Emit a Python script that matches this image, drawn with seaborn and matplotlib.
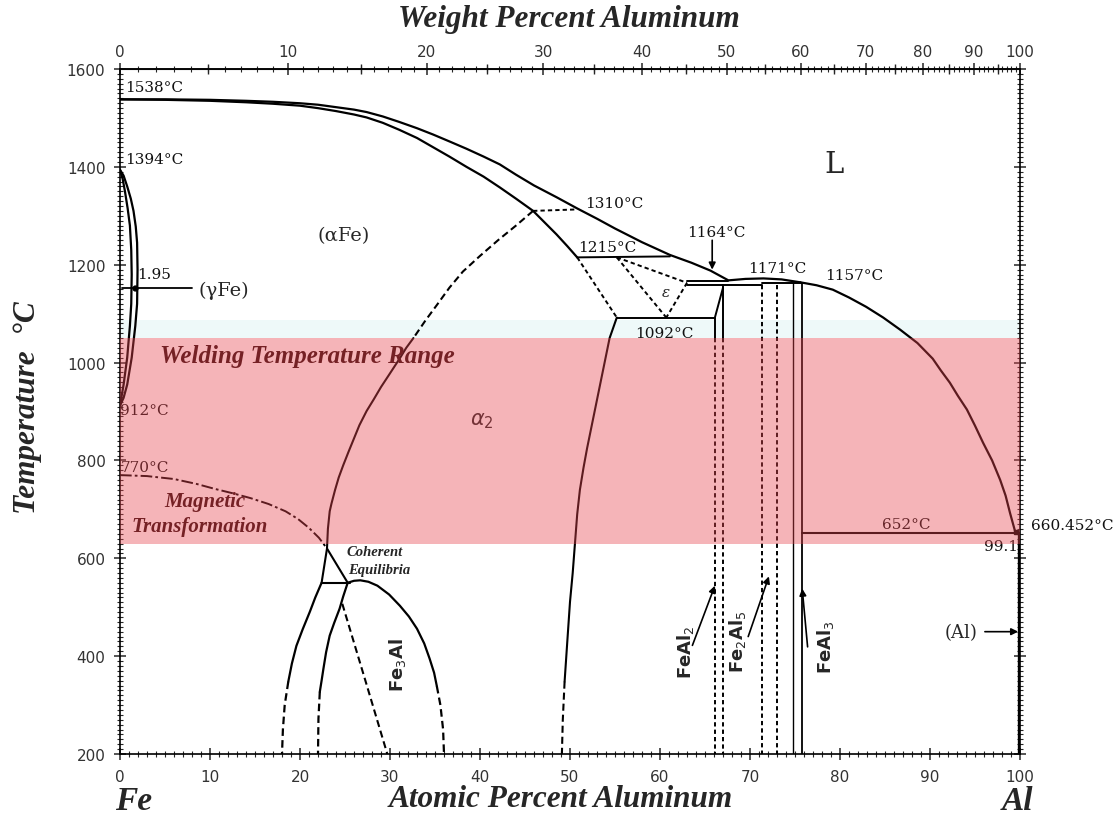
import numpy as np
import matplotlib
matplotlib.use("Agg")
import matplotlib.pyplot as plt
import seaborn as sns
from matplotlib.ticker import MultipleLocator, FixedLocator

# ---------------- phase boundaries (atomic % Al, temperature in °C) ----------------
liquidus_at = [0, 5, 10, 14, 17, 20, 22, 24, 26, 27.4, 29.2, 31, 33, 34.8, 36.6, 38.5,
               40.4, 42.2, 44, 46, 48.5, 50.8, 53, 55, 58, 61.1, 63.5, 65.6, 67.6,
               69.5, 71.5, 73.5, 75.6]
liquidus_T = [1538, 1538, 1537, 1535, 1533, 1530, 1527, 1522, 1517, 1512, 1503, 1492,
              1479, 1466, 1452, 1437, 1421, 1405, 1384, 1362, 1338, 1315, 1294, 1274,
              1246, 1220, 1204, 1188, 1168, 1171, 1172, 1170, 1164]

al_liquidus_at = [75.6, 77.4, 79.2, 81.0, 82.9, 84.8, 86.7, 88.6, 90.3, 91.2, 92.2, 93.1,
                  94.1, 95.0, 95.9, 96.9, 97.8, 98.4, 98.9, 99.2, 99.5]
al_liquidus_T = [1164, 1158, 1149, 1133, 1114, 1092, 1067, 1040, 1008, 984, 959, 932,
                 904, 871, 836, 800, 760, 728, 692, 672, 652]

solidus_at = [0, 5, 10, 14, 17, 20, 22, 24, 26, 27.4, 29.2, 31, 33, 34.8, 36.6, 38.5,
              40.4, 42.2, 44, 45.9, 47.2, 48.5, 49.7, 50.8]
solidus_T = [1538, 1537, 1535, 1532, 1529, 1525, 1520, 1514, 1507, 1501, 1490, 1476,
             1459, 1440, 1421, 1400, 1380, 1358, 1335, 1310, 1286, 1262, 1238, 1215]

gamma_outer_at = [0, 0.4, 0.8, 1.2, 1.5, 1.75, 1.9, 1.95, 1.9, 1.7, 1.3, 0.8, 0.4, 0]
gamma_outer_T = [1394, 1382, 1360, 1335, 1310, 1278, 1245, 1190, 1120, 1075, 1010, 955,
                 928, 912]
gamma_inner_at = [0, 0.3, 0.55, 0.85, 1.1, 1.25, 1.3, 1.25, 1.1, 0.8, 0.4, 0]
gamma_inner_T = [1394, 1375, 1350, 1315, 1280, 1230, 1180, 1120, 1075, 1010, 955, 912]

# A2 / B2 ordering line
order_dash_at = [45.9, 44.0, 42.0, 40.0, 38.1, 36.6, 35.3, 33.9, 32.6]
order_dash_T = [1310, 1280, 1250, 1218, 1186, 1153, 1120, 1085, 1050]
order_solid_at = [32.6, 31.8, 31.1, 30.0, 29.0, 28.2, 27.4, 26.6, 26.0, 25.4, 24.8,
                  24.3, 23.9, 23.5, 23.3, 23.1, 23.0]
order_solid_T = [1050, 1030, 1009, 978, 950, 925, 901, 872, 845, 818, 790, 765, 740,
                 712, 696, 660, 620]

magnetic_at = [0, 3, 6, 8.5, 10.5, 12.5, 14.5, 16.5, 18.4, 19.8, 21.0, 22.1, 23.0]
magnetic_T = [770, 768, 762, 752, 742, 733, 723, 711, 696, 680, 662, 642, 620]

# alpha2 / FeAl boundary
b2_solid_at = [55.2, 54.4, 53.9, 53.4, 52.9, 52.4, 51.9, 51.5, 51.1, 50.8, 50.55, 50.3,
               50.0, 49.7, 49.4]
b2_solid_T = [1092, 1050, 1005, 960, 915, 870, 825, 785, 740, 690, 630, 570, 511, 430, 348]
b2_dash_at = [49.4, 49.2, 49.1]
b2_dash_T = [348, 270, 200]

# Fe3Al region
fe3al_left_at = [22.4, 21.7, 21.1, 20.3, 19.6, 19.1, 18.7]
fe3al_left_T = [550, 520, 491, 455, 421, 385, 348]
fe3al_left_dash_at = [18.7, 18.3, 18.1, 18.0]
fe3al_left_dash_T = [348, 300, 250, 200]
fe3al_mid_at = [25.3, 24.8, 24.4, 23.8, 23.3, 22.9, 22.6, 22.4, 22.2]
fe3al_mid_T = [550, 522, 497, 468, 442, 408, 374, 350, 327]
fe3al_mid_dash_at = [22.2, 22.05, 22.0]
fe3al_mid_dash_T = [327, 272, 200]
fe3al_inner_at = [24.7, 27.2, 29.7]
fe3al_inner_T = [507, 354, 200]
fe3al_right_at = [25.3, 26.0, 26.7, 27.6, 28.6, 29.9, 31.1, 32.1, 33.0, 33.8, 34.4,
                  34.9, 35.2]
fe3al_right_T = [550, 554, 555, 552, 544, 526, 503, 481, 456, 426, 395, 366, 339]
fe3al_right_dash_at = [35.2, 35.6, 35.9, 36.0]
fe3al_right_dash_T = [339, 300, 250, 200]

# intermetallic line compounds (vertical boundaries)
feal2_at = [66.1, 67.0]
fe2al5_at = [71.3, 73.0]
feal3_at = [74.8, 75.8]

# invariant temperatures
T_1310, T_1215, T_1092, T_1164, T_1159, T_652 = 1310, 1215, 1092, 1166, 1159, 652
weld_low, weld_high = 630, 1050

# top axis ticks (weight % Al)
wt_major = list(range(0, 101, 10))
wt_mid = list(range(5, 100, 10))
wt_minor = list(range(0, 101, 1))

FE_MASS, AL_MASS = 55.845, 26.982


def at_to_wt(a):
    a = np.asarray(a, dtype=float)
    with np.errstate(divide="ignore", invalid="ignore"):
        return 100.0 * a * AL_MASS / (a * AL_MASS + (100.0 - a) * FE_MASS)


def wt_to_at(w):
    w = np.asarray(w, dtype=float)
    with np.errstate(divide="ignore", invalid="ignore"):
        return 100.0 * (w / AL_MASS) / (w / AL_MASS + (100.0 - w) / FE_MASS)


sns.set_style("ticks")
plt.rcParams["font.family"] = ["DejaVu Sans"]
plt.rcParams["mathtext.fontset"] = "dejavusans"

W, H = 1119, 820
fig = plt.figure(figsize=(W / 100, H / 100), dpi=100)
ax = fig.add_axes([120 / W, 65 / H, 900 / W, 685 / H])
ax.set_xlim(0, 100)
ax.set_ylim(200, 1600)

DASH = (0, (2.2, 1.6))
LDASH = (0, (3.4, 1.9))
DASHDOT = (0, (6, 1.6, 1.4, 1.6))


def trace(xs, ts, style="solid", lw=1.5, color="black", z=2):
    sns.lineplot(x=list(xs), y=list(ts), sort=False, estimator=None, errorbar=None,
                 ax=ax, color=color, linewidth=lw, linestyle=style, zorder=z)


# faint strip above the welding range
ax.axhspan(weld_high, 1088, color="#eef9f9", lw=0, zorder=0)

# liquidus and solidus
trace(liquidus_at, liquidus_T, lw=1.6)
trace(al_liquidus_at, al_liquidus_T, lw=1.6)
trace(solidus_at, solidus_T, lw=1.6)

# gamma loop
trace(gamma_outer_at, gamma_outer_T, lw=1.6)
trace(gamma_inner_at, gamma_inner_T, lw=1.6)
trace([0.2, 8.0], [1153, 1153], lw=1.3)
ax.plot([1.7], [1153], "o", color="black", ms=3.5, zorder=3)

# ordering lines
trace(order_dash_at, order_dash_T, style=LDASH, lw=1.5)
trace(order_solid_at, order_solid_T, lw=1.5)
trace(magnetic_at, magnetic_T, style=DASHDOT, lw=1.4)
trace([solidus_at[19], 50.8], [T_1310, T_1310 + 3], style=DASH, lw=1.4)

# peritectic / eutectoid region around epsilon
trace([50.8, 61.1], [T_1215, 1217], lw=1.4)
trace([50.8, 55.2], [T_1215, T_1092], style=DASH, lw=1.4)
trace([55.2, 60.7], [T_1215, T_1092], style=DASH, lw=1.4)
trace([55.2, 63.0], [T_1215, 1163], style=DASH, lw=1.4)
trace([63.0, 60.7], [1163, T_1092], style=DASH, lw=1.4)
trace([55.2, 66.1], [T_1092, T_1092], lw=1.4)
trace([66.1, 67.0], [T_1092, 1153], lw=1.4)
trace([63.0, 67.6], [T_1164, T_1164], lw=1.4)
trace([63.0, 71.3], [T_1159, T_1159], lw=1.4)
trace([71.3, 75.8], [1163, 1163], lw=1.4)

# alpha2 / FeAl boundary
trace(b2_solid_at, b2_solid_T, lw=1.5)
trace(b2_dash_at, b2_dash_T, style=LDASH, lw=1.5)

# coherent equilibria triangle and Fe3Al
trace([23.0, 22.4], [620, 550], lw=1.5)
trace([23.0, 25.3], [620, 550], lw=1.5)
trace([22.4, 25.6], [550, 550], lw=1.5)
trace(fe3al_left_at, fe3al_left_T, lw=1.6)
trace(fe3al_left_dash_at, fe3al_left_dash_T, style=LDASH, lw=1.6)
trace(fe3al_mid_at, fe3al_mid_T, lw=1.6)
trace(fe3al_mid_dash_at, fe3al_mid_dash_T, style=LDASH, lw=1.6)
trace(fe3al_inner_at, fe3al_inner_T, style=LDASH, lw=1.5)
trace(fe3al_right_at, fe3al_right_T, lw=1.6)
trace(fe3al_right_dash_at, fe3al_right_dash_T, style=LDASH, lw=1.6)

# intermetallic compounds
trace([feal2_at[0]] * 2, [T_1092, weld_high], lw=1.4)
trace([feal2_at[0]] * 2, [weld_high, 200], style=DASH, lw=1.4)
trace([feal2_at[1]] * 2, [T_1159, weld_high], lw=1.4)
trace([feal2_at[1]] * 2, [weld_high, 200], style=DASH, lw=1.4)
for xv in fe2al5_at:
    trace([xv, xv], [T_1159, 200], style=DASH, lw=1.4)
trace([feal3_at[0]] * 2, [1163, 200], lw=1.0)
trace([feal3_at[1]] * 2, [1163, 200], lw=1.3)

# Al-rich eutectic and solvus
trace([feal3_at[1], 99.6], [T_652, T_652], lw=1.5)
trace([99.85, 99.85], [T_652, 200], lw=2.4)
ax.plot([99.6], [T_652 + 2], "s", color="black", ms=3, zorder=3)

# welding range overlay (tints the lines and labels beneath it)
ax.axhspan(weld_low, weld_high, color=(0.91, 0.27, 0.31), alpha=0.4, lw=0, zorder=6)

# ---------------- labels ----------------
SERIF = "DejaVu Serif"
BI = dict(family="Liberation Serif", weight="bold", style="italic")
num = dict(family=SERIF, fontsize=11, color="#111111", zorder=4)

ax.text(0.55, 1563, "1538°C", ha="left", va="center", **num)
ax.text(0.55, 1417, "1394°C", ha="left", va="center", **num)
ax.text(0.0, 903, "912°C", ha="left", va="center", **num)
ax.text(0.1, 786, "770°C", ha="left", va="center", **num)
ax.text(51.7, 1327, "1310°C", ha="left", va="center", **num)
ax.text(50.9, 1236, "1215°C", ha="left", va="center", **num)
ax.text(63.0, 1266, "1164°C", ha="left", va="center", **num)
ax.text(69.8, 1194, "1171°C", ha="left", va="center", **num)
ax.text(78.3, 1180, "1157°C", ha="left", va="center", **num)
ax.text(57.2, 1061, "1092°C", ha="left", va="center", **num)
ax.text(87.4, 671, "652°C", ha="center", va="center", **num)
ax.text(99.8, 626, "99.1", ha="right", va="center", **num)
ax.text(101.2, 668, "660.452°C", ha="left", va="center", clip_on=False, **num)
ax.text(1.9, 1181, "1.95", ha="left", va="center", **num)

ax.text(79.3, 1405, "L", family=SERIF, fontsize=21, ha="center", va="center")
ax.text(24.8, 1261, "(αFe)", family=SERIF, fontsize=14, ha="center", va="center")
ax.text(8.7, 1149, "(γFe)", family=SERIF, fontsize=14, ha="left", va="center")
ax.text(40.2, 882, r"$\alpha_2$", fontsize=15, ha="center", va="center", zorder=4)
ax.text(60.6, 1145, "ε", family=SERIF, fontsize=11, style="italic", ha="center", va="center")
ax.text(93.5, 450, "(Al)", family=SERIF, fontsize=13, ha="center", va="center")

ax.text(4.4, 1014, "Welding Temperature Range", fontsize=18, color="#2a0a0a",
        ha="left", va="center", zorder=4, **BI)
ax.text(9.4, 718, "Magnetic", fontsize=15, color="#2a0a0a", ha="center", va="center", zorder=4, **BI)
ax.text(8.9, 667, "Transformation", fontsize=15, color="#2a0a0a", ha="center", va="center", zorder=4, **BI)
ax.text(25.2, 614, "Coherent", fontsize=10.5, ha="left", va="center", **BI)
ax.text(25.3, 577, "Equilibria", fontsize=10.5, ha="left", va="center", **BI)

comp = dict(fontsize=13, weight="bold", rotation=90, ha="center", va="center")
ax.text(30.8, 384, r"Fe$_3$Al", **comp)
ax.text(62.8, 411, r"FeAl$_2$", **comp)
ax.text(68.6, 432, r"Fe$_2$Al$_5$", **comp)
ax.text(78.4, 421, r"FeAl$_3$", **comp)

arrow = dict(arrowstyle="-|>", color="black", lw=1.2, mutation_scale=10, shrinkA=0, shrinkB=0)
ax.annotate("", xy=(66.1, 544), xytext=(63.6, 422), arrowprops=arrow)
ax.annotate("", xy=(72.1, 563), xytext=(69.8, 440), arrowprops=arrow)
ax.annotate("", xy=(75.8, 538), xytext=(76.4, 419), arrowprops=arrow)
ax.annotate("", xy=(99.8, 450), xytext=(96.1, 450), arrowprops=arrow)
ax.annotate("", xy=(65.8, 1190), xytext=(65.8, 1250), arrowprops=arrow)

# ---------------- axes, ticks, titles ----------------
for s in ax.spines.values():
    s.set_linewidth(1.2)
    s.set_color("black")

ax.xaxis.set_major_locator(MultipleLocator(10))
ax.xaxis.set_minor_locator(MultipleLocator(1))
ax.yaxis.set_major_locator(MultipleLocator(200))
ax.yaxis.set_minor_locator(MultipleLocator(10))
ax.tick_params(which="major", direction="inout", length=9, width=1.1, labelsize=11,
               labelcolor="#333333", pad=6)
ax.tick_params(which="minor", direction="inout", length=4, width=0.8)
ax.tick_params(which="both", top=False, right=True, labelright=False)
ax.set_xlabel("")
ax.set_ylabel("")

top = ax.secondary_xaxis("top", functions=(at_to_wt, wt_to_at))
top.xaxis.set_major_locator(FixedLocator(wt_major))
top.xaxis.set_minor_locator(FixedLocator(wt_minor))
top.tick_params(which="major", direction="inout", length=9, width=1.1, labelsize=11,
                labelcolor="#333333", pad=3)
top.tick_params(which="minor", direction="inout", length=4, width=0.8)
top.spines["top"].set_linewidth(1.2)

mid = ax.secondary_xaxis("top", functions=(at_to_wt, wt_to_at))
mid.xaxis.set_major_locator(FixedLocator(wt_mid))
mid.tick_params(which="major", direction="inout", length=7, width=1.0, labeltop=False)
mid.xaxis.set_minor_locator(FixedLocator([]))

fig.text(569 / W, 1 - 20 / H, "Weight Percent Aluminum", fontsize=22.5, ha="center", va="center", **BI)
fig.text(561 / W, 1 - 800 / H, "Atomic Percent Aluminum", fontsize=22.5, ha="center", va="center", **BI)
fig.text(28 / W, 1 - 408 / H, "Temperature  °C", fontsize=22.5, rotation=90, ha="center", va="center", **BI)
fig.text(134 / W, 1 - 802 / H, "Fe", fontsize=24, ha="center", va="center", **BI)
fig.text(1017 / W, 1 - 802 / H, "Al", fontsize=24, ha="center", va="center", **BI)

fig.savefig("out.png", dpi=100, facecolor="white")
